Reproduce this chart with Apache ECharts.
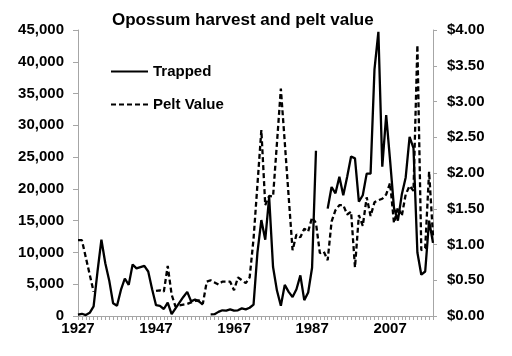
<!DOCTYPE html>
<html>
<head>
<meta charset="utf-8">
<script src="https://cdn.jsdelivr.net/npm/echarts@6/dist/echarts.min.js"></script>
<style>
html,body{margin:0;padding:0;background:#fff;}
#c{width:512px;height:356px;}
</style>
</head>
<body>
<div id="c"></div>
<script>
// Years 1927..2018
var years = [];
for (var y = 1927; y <= 2018; y++) years.push(String(y));

var trapped1927_1959 = [200, 350, 150, 500, 1500, 7000, 12000, 8300, 5600, 2000,
  1600, 4100, 5900, 4900, 8100, 7500, 7700, 7900, 7000, 4200,
  1700, 1600, 1100, 2100, 300, 1200, 2100, 3000, 3800, 2300,
  2600, 2300, 1800];
var trapped1960_1990 = [null, 270, 280, 650, 900, 850, 1050, 850, 900, 1200,
  1050, 1300, 1800, 10000, 15100, 12000, 18700, 7700, 4000, 1600,
  4900, 3800, 3000, 4200, 6400, 2500, 3700, 7600, 26000, null,
  null];
var trapped1991_2018 = [16900, 20300, 19300, 21900, 19000, 21900, 25100, 24800, 18000,
  19000, 22400, 22400, 38800, 44700, 23500, 31600, 24500, 17000, 15000,
  19100, 21800, 28200, 26400, 10000, 6500, 7000, 15000, 11500];

var pelt1927_1959 = [1.06, 1.06, 0.82, 0.58, 0.34, null, null, null, null, null,
  null, null, null, null, null, null, null, null, null, null,
  0.35, 0.36, 0.34, 0.70, 0.30, 0.13, 0.15, 0.16, 0.17, 0.19,
  0.21, 0.22, 0.17];
var pelt1960_1990 = [0.48, 0.50, 0.47, 0.44, 0.48, 0.48, 0.48, 0.36, 0.54, 0.50,
  0.46, 0.54, 1.08, 1.84, 2.60, 1.55, 1.68, 1.67, 2.42, 3.18,
  2.43, 1.67, 0.92, 1.14, 1.10, 1.22, 1.18, 1.38, 1.30, 0.88,
  0.90];
var pelt1991_2018 = [0.78, 1.32, 1.48, 1.55, 1.55, 1.42, 1.46, 0.68, 1.41,
  1.26, 1.66, 1.40, 1.59, 1.62, 1.64, 1.70, 1.86, 1.30, 1.52,
  1.40, 1.70, 1.82, 1.75, 3.79, 0.92, 0.95, 2.02, 1.12];

var trapped = trapped1927_1959.concat(trapped1960_1990, trapped1991_2018);
var pelt = pelt1927_1959.concat(pelt1960_1990, pelt1991_2018);

var FONT = "'Liberation Sans', Arial, sans-serif";
var AXIS_GRAY = '#a6a6a6';

var chart = echarts.init(document.getElementById('c'), null, {renderer: 'canvas'});
chart.setOption({
  backgroundColor: '#ffffff',
  animation: false,
  title: {
    text: 'Opossum harvest and pelt value',
    left: 112, top: 12, padding: 0,
    textStyle: {fontFamily: FONT, fontSize: 17, fontWeight: 'bold', color: '#000'}
  },
  legend: {
    orient: 'vertical', left: 110, top: 64, padding: 0,
    itemWidth: 37, itemHeight: 14, itemGap: 18,
    data: ['Trapped', 'Pelt Value'],
    itemStyle: {opacity: 0, color: 'transparent', borderWidth: 0},
    textStyle: {fontFamily: FONT, fontSize: 15, fontWeight: 'bold', color: '#000'}
  },
  grid: {left: 78, right: 79, top: 30, bottom: 40, containLabel: false},
  xAxis: {
    type: 'category', data: years, boundaryGap: false,
    axisLine: {lineStyle: {color: AXIS_GRAY, width: 1}},
    axisTick: {show: true, interval: 0, length: 4, lineStyle: {color: AXIS_GRAY}},
    axisLabel: {interval: 19, margin: 5, fontFamily: FONT, fontSize: 15, fontWeight: 'bold', color: '#000'},
    splitLine: {show: false}
  },
  yAxis: [{
    type: 'value', min: 0, max: 45000, interval: 5000, position: 'left',
    axisLine: {show: true, lineStyle: {color: AXIS_GRAY, width: 1}},
    axisTick: {show: true, length: 5, lineStyle: {color: AXIS_GRAY}},
    axisLabel: {margin: 14, fontFamily: FONT, fontSize: 15, fontWeight: 'bold', color: '#000',
      formatter: function (v) { return v.toLocaleString('en-US'); }},
    splitLine: {show: false}
  }, {
    type: 'value', min: 0, max: 4, interval: 0.5, position: 'right',
    axisLine: {show: true, lineStyle: {color: AXIS_GRAY, width: 1}},
    axisTick: {show: true, length: 4, lineStyle: {color: AXIS_GRAY}},
    axisLabel: {margin: 14, fontFamily: FONT, fontSize: 15, fontWeight: 'bold', color: '#000',
      formatter: function (v) { return '$' + v.toFixed(2); }},
    splitLine: {show: false}
  }],
  series: [{
    name: 'Trapped', type: 'line', yAxisIndex: 0, data: trapped,
    symbol: 'none', connectNulls: false,
    lineStyle: {color: '#000', width: 2.3, type: 'solid'},
    itemStyle: {color: '#000'}
  }, {
    name: 'Pelt Value', type: 'line', yAxisIndex: 1, data: pelt,
    symbol: 'none', connectNulls: false,
    lineStyle: {color: '#000', width: 2.3, type: [5, 3]},
    itemStyle: {color: '#000'}
  }]
});
</script>
</body>
</html>
